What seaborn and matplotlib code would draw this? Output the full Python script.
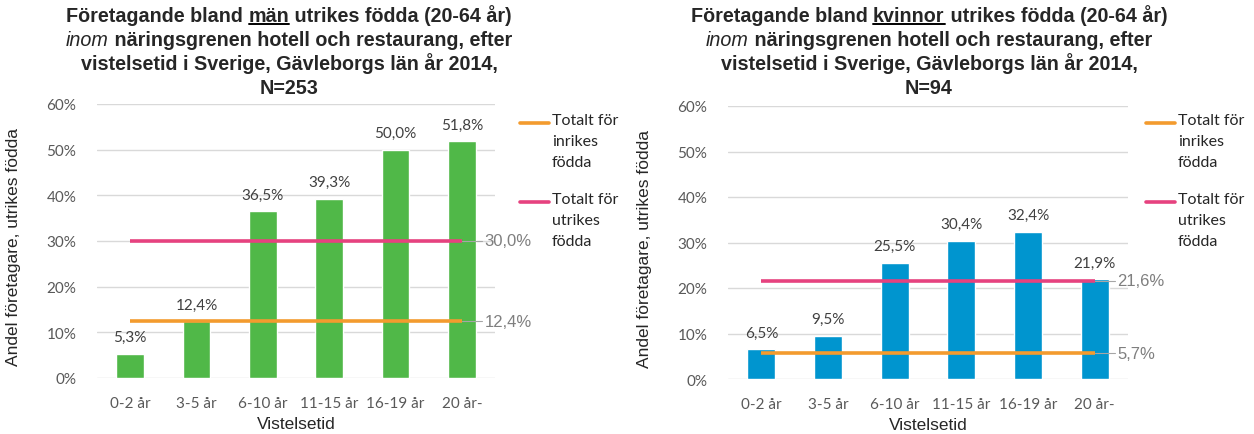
import numpy as np
import pandas as pd
import matplotlib
matplotlib.use("Agg")
import matplotlib.pyplot as plt
import seaborn as sns
from matplotlib.lines import Line2D

# data
kategorier = ["0-2 år", "3-5 år", "6-10 år", "11-15 år", "16-19 år", "20 år-"]
andel_man = [5.3, 12.4, 36.5, 39.3, 50.0, 51.8]
andel_kvinnor = [6.5, 9.5, 25.5, 30.4, 32.4, 21.9]
inrikes_man = 12.4
utrikes_man = 30.0
inrikes_kvinnor = 5.7
utrikes_kvinnor = 21.6
n_man = 253
n_kvinnor = 94
legend_texter = ["Totalt för\ninrikes\nfödda", "Totalt för\nutrikes\nfödda"]

#colors / fonts
GRON = "#50B848"
BLA = "#0095CF"
ORANGE = "#F39B2E"
ROSA = "#E6427F"
GRA_TEXT = "#595959"
TITEL_FONT = "Liberation Sans"
TICK_FONT = "Lato"

sns.set_theme(style="white")
plt.rcParams["font.family"] = ["Liberation Sans", "DejaVu Sans"]

W, H = 1254, 435
fig = plt.figure(figsize=(W / 100, H / 100), dpi=100)
renderer = fig.canvas.get_renderer()


def fmt(v):
    return f"{v:.1f}%".replace(".", ",")


def rich_line(xc, ybase, delar, size=14.2):
    # delar: list of (text, weight, style, underline)
    texts = []
    for txt, weight, style, ul in delar:
        t = fig.text(0, 1 - ybase / H, txt, fontsize=size, fontweight=weight,
                     fontstyle=style, family=TITEL_FONT, va="baseline", ha="left")
        texts.append((t, ul))
    widths = [t.get_window_extent(renderer).width for t, _ in texts]
    x = xc - sum(widths) / 2
    for (t, ul), w in zip(texts, widths):
        t.set_x(x / W)
        if ul:
            fig.add_artist(Line2D([x / W, (x + w) / W], [1 - (ybase + 3) / H] * 2,
                                  color="black", lw=1.4, transform=fig.transFigure))
        x += w


def titel(xc, kon, n):
    rich_line(xc, 22, [("Företagande bland ", "bold", "normal", False),
                       (kon, "bold", "normal", True),
                       (" utrikes födda (20-64 år)", "bold", "normal", False)])
    rich_line(xc, 46, [("inom", "normal", "italic", False),
                       (" näringsgrenen hotell och restaurang, efter", "bold", "normal", False)])
    rich_line(xc, 70, [("vistelsetid i Sverige, Gävleborgs län år 2014,", "bold", "normal", False)])
    rich_line(xc, 94, [(f"N={n}", "bold", "normal", False)])


def panel(rect, varden, farg, inrikes, utrikes, legend_x):
    ax = fig.add_axes(rect)
    df = pd.DataFrame({"kat": kategorier, "andel": varden})
    sns.barplot(data=df, x="kat", y="andel", color=farg, saturation=1,
                width=0.42, ax=ax)
    n = len(kategorier)
    ax.set_xlim(-0.5, n - 0.5)
    ax.set_ylim(0, 60)
    ax.set_yticks(range(0, 61, 10))
    ax.set_yticklabels([f"{v}%" for v in range(0, 61, 10)])
    ax.yaxis.grid(True, color="#D9D9D9", lw=1)
    ax.set_axisbelow(True)
    for s in ax.spines.values():
        s.set_visible(False)
    ax.tick_params(axis="both", length=0, labelsize=11, labelcolor=GRA_TEXT)
    ax.tick_params(axis="y", pad=15)
    ax.tick_params(axis="x", pad=13)
    for lab in ax.get_xticklabels() + ax.get_yticklabels():
        lab.set_family(TICK_FONT)

    ax.bar_label(ax.containers[0], labels=[fmt(v) for v in varden], padding=7,
                 fontsize=11, color="#404040", family=TICK_FONT)

    # total lines + end labels
    for v, c in [(inrikes, ORANGE), (utrikes, ROSA)]:
        ax.hlines(v, 0, n - 1, color=c, lw=2.6, zorder=3)
        ax.plot([n - 1, n - 0.7], [v, v], color="#A6A6A6", lw=0.8, clip_on=False)
        ax.text(n - 0.66, v, fmt(v), va="center", ha="left", fontsize=12,
                color="#7F7F7F", family="Liberation Sans")

    ax.set_xlabel("Vistelsetid", fontsize=12.5, color="#262626", labelpad=4)
    ax.set_ylabel("Andel företagare, utrikes födda", fontsize=12.5, color="#262626",
                  labelpad=4)

    # legend drawn by hand to keep first-line alignment
    for ytop, c, txt in [(124, ORANGE, legend_texter[0]), (203, ROSA, legend_texter[1])]:
        fig.add_artist(Line2D([legend_x / W, (legend_x + 29) / W], [1 - ytop / H] * 2,
                              color=c, lw=2.6, transform=fig.transFigure))
        fig.text((legend_x + 32) / W, 1 - (ytop - 10) / H, txt, va="top", ha="left",
                 fontsize=11.5, color="#262626", family=TICK_FONT, linespacing=1.62)
    return ax


ax1 = panel([97 / W, 1 - 379 / H, 398 / W, 274 / H], andel_man, GRON,
            inrikes_man, utrikes_man, 520)
ax2 = panel([728 / W, 1 - 380 / H, 400 / W, 273 / H], andel_kvinnor, BLA,
            inrikes_kvinnor, utrikes_kvinnor, 1146)
ax1.yaxis.set_label_coords(-0.19, 0.48)
ax2.yaxis.set_label_coords(-0.19, 0.48)

titel(289, "män", n_man)
titel(929, "kvinnor", n_kvinnor)

fig.savefig("out.png", dpi=100, facecolor="white")
